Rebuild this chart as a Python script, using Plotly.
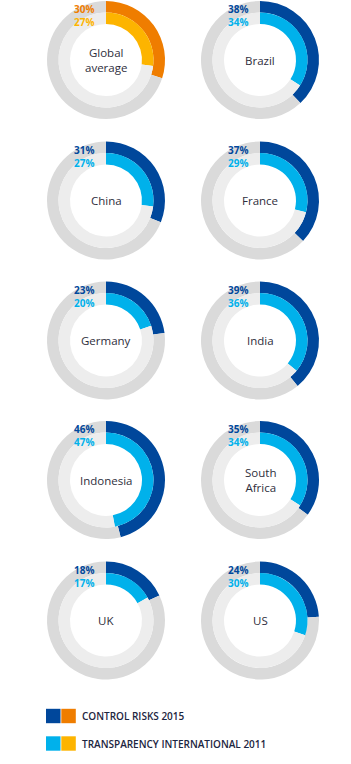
import plotly.graph_objects as go

W, H = 351, 764

countries = ["Global<br>average", "Brazil", "China", "France", "Germany", "India",
             "Indonesia", "South<br>Africa", "UK", "US"]
control_risks_2015 = [30, 38, 31, 37, 23, 39, 46, 35, 18, 24]
transparency_2011 = [27, 34, 27, 29, 20, 36, 47, 34, 17, 30]

legend_labels = ["CONTROL RISKS 2015", "TRANSPARENCY INTERNATIONAL 2011"]

DARK_BLUE = "#00479b"
LIGHT_BLUE = "#00b1eb"
ORANGE = "#ef7d00"
LIGHT_ORANGE = "#fdb400"
GRAY_OUT = "#dadada"
GRAY_IN = "#ededed"
TEXT = "#2e2e3c"
FONT = "Open Sans"

col_x = [106, 260]
row_y = [60, 200.5, 340.5, 480, 620.5]
R_OUT, R_MID, R_IN = 59, 47.5, 36

fig = go.Figure()


def domain(cx, cy, r):
    return dict(x=[(cx - r) / W, (cx + r) / W], y=[1 - (cy + r) / H, 1 - (cy - r) / H])


annotations = []
for i, name in enumerate(countries):
    cx = col_x[i % 2]
    cy = row_y[i // 2]
    c_out, c_in = (ORANGE, LIGHT_ORANGE) if i == 0 else (DARK_BLUE, LIGHT_BLUE)
    v_out = control_risks_2015[i]
    v_in = transparency_2011[i]
    fig.add_trace(go.Pie(
        values=[v_out, 100 - v_out], marker=dict(colors=[c_out, GRAY_OUT], line=dict(width=0)),
        hole=R_MID / R_OUT, sort=False, direction="clockwise", rotation=0,
        textinfo="none", hoverinfo="skip", showlegend=False, domain=domain(cx, cy, R_OUT)))
    fig.add_trace(go.Pie(
        values=[v_in, 100 - v_in], marker=dict(colors=[c_in, GRAY_IN], line=dict(width=0)),
        hole=R_IN / R_MID, sort=False, direction="clockwise", rotation=0,
        textinfo="none", hoverinfo="skip", showlegend=False, domain=domain(cx, cy, R_MID)))
    annotations.append(dict(
        x=cx / W, y=1 - cy / H, xref="paper", yref="paper", text=name, showarrow=False,
        font=dict(family=FONT, size=11.5, color=TEXT), xanchor="center", yanchor="middle"))
    annotations.append(dict(
        x=(cx - 10) / W, y=1 - (cy - 44.5) / H, xref="paper", yref="paper",
        text=(f"<span style='color:{c_out}'><b>{v_out}%</b></span><br>"
              f"<span style='color:{c_in}'><b>{v_in}%</b></span>"),
        showarrow=False, align="right",
        font=dict(family=FONT, size=10, color=c_out), xanchor="right", yanchor="middle"))

# legend
shapes = []
legend_rows = [(716, DARK_BLUE, ORANGE), (743.5, LIGHT_BLUE, LIGHT_ORANGE)]
for (ly, ca, cb), lab in zip(legend_rows, legend_labels):
    for x0, c in ((46, ca), (61.3, cb)):
        shapes.append(dict(type="rect", xref="paper", yref="paper",
                           x0=x0 / W, x1=(x0 + 14.5) / W,
                           y0=1 - (ly + 7.2) / H, y1=1 - (ly - 7.2) / H,
                           fillcolor=c, line=dict(width=0)))
    annotations.append(dict(
        x=80 / W, y=1 - ly / H, xref="paper", yref="paper", text=lab, showarrow=False,
        font=dict(family=FONT, size=10, color="#1c2540", weight=600),
        xanchor="left", yanchor="middle"))

fig.update_layout(
    width=W, height=H, margin=dict(l=0, r=0, t=0, b=0),
    paper_bgcolor="white", plot_bgcolor="white",
    annotations=annotations, shapes=shapes,
)

fig.write_html("out.html")
